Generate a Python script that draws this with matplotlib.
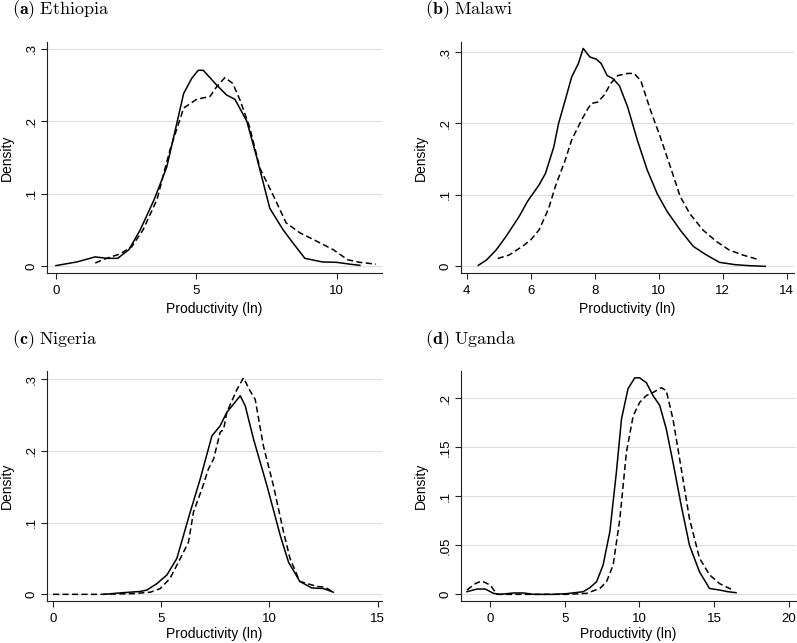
import matplotlib
matplotlib.use("Agg")
import matplotlib.pyplot as plt

plt.rcParams['font.family'] = ['Liberation Sans', 'DejaVu Sans']
plt.rcParams['mathtext.fontset'] = 'cm'

# ---------------- data ----------------
# (a) Ethiopia
eth_solid_x = [0.0, 0.74, 1.4, 1.8, 2.2, 2.6, 3.0, 3.5, 3.95, 4.55, 4.84, 5.07, 5.25, 5.72, 6.08, 6.38,
               6.8, 7.15, 7.62, 8.1, 8.45, 8.87, 9.5, 10.0, 10.47, 10.83]
eth_solid_y = [0.001, 0.006, 0.013, 0.011, 0.011, 0.023, 0.05, 0.092, 0.137, 0.238, 0.259, 0.27, 0.27,
               0.25, 0.236, 0.23, 0.20, 0.151, 0.08, 0.05, 0.032, 0.011, 0.006, 0.0055, 0.003, 0.0014]
eth_dash_x = [1.4, 1.8, 2.28, 2.7, 3.1, 3.6, 4.06, 4.55, 5.01, 5.49, 5.72, 6.02, 6.3, 6.56, 6.9, 7.27,
              7.74, 8.2, 8.7, 9.17, 9.88, 10.4, 10.83, 11.4]
eth_dash_y = [0.0046, 0.011, 0.017, 0.027, 0.05, 0.092, 0.16, 0.218, 0.23, 0.234, 0.247, 0.26, 0.252,
              0.229, 0.192, 0.135, 0.098, 0.06, 0.046, 0.037, 0.023, 0.009, 0.0055, 0.003]

# (b) Malawi
mal_solid_x = [4.36, 4.62, 4.92, 5.23, 5.64, 5.9, 6.26, 6.46, 6.72, 6.87, 7.08, 7.28, 7.49, 7.64, 7.85,
               8.05, 8.2, 8.39, 8.56, 8.77, 9.03, 9.33, 9.64, 9.95, 10.26, 10.67, 11.08, 11.49, 11.9,
               12.4, 12.82, 13.33]
mal_solid_y = [0.0014, 0.009, 0.023, 0.042, 0.07, 0.091, 0.114, 0.13, 0.167, 0.2, 0.233, 0.265, 0.284,
               0.305, 0.293, 0.29, 0.284, 0.267, 0.263, 0.253, 0.223, 0.177, 0.135, 0.102, 0.077, 0.051,
               0.028, 0.016, 0.0056, 0.0023, 0.001, 0.0]
mal_dash_x = [4.97, 5.33, 5.74, 6.0, 6.26, 6.56, 6.77, 7.08, 7.28, 7.59, 7.79, 7.9, 8.1, 8.3, 8.5, 8.72,
              9.03, 9.23, 9.44, 9.74, 10.05, 10.36, 10.67, 10.97, 11.38, 11.8, 12.2, 12.62, 13.08]
mal_dash_y = [0.011, 0.016, 0.028, 0.037, 0.051, 0.081, 0.112, 0.149, 0.177, 0.205, 0.221, 0.228, 0.23,
              0.24, 0.256, 0.267, 0.27, 0.27, 0.26, 0.219, 0.181, 0.14, 0.098, 0.074, 0.051, 0.035,
              0.023, 0.016, 0.01]

# (c) Nigeria
nga_solid_x = [2.34, 3.1, 4.03, 4.34, 4.8, 5.26, 5.72, 6.34, 6.8, 7.34, 7.72, 8.03, 8.65, 8.88, 9.26,
               9.88, 10.5, 10.88, 11.4, 11.95, 12.5, 12.95]
nga_solid_y = [0.0, 0.002, 0.004, 0.006, 0.015, 0.027, 0.05, 0.115, 0.161, 0.221, 0.235, 0.254, 0.277,
               0.263, 0.217, 0.152, 0.082, 0.045, 0.018, 0.009, 0.008, 0.003]
nga_dash_x = [0.0, 2.2, 3.7, 4.5, 4.95, 5.4, 5.88, 6.26, 6.49, 6.88, 7.18, 7.42, 7.72, 7.88, 8.03, 8.5,
              8.8, 9.1, 9.34, 9.72, 10.18, 10.65, 10.95, 11.4, 12.2, 12.57, 12.95]
nga_dash_y = [0.0, 0.0, 0.001, 0.003, 0.008, 0.022, 0.05, 0.073, 0.115, 0.147, 0.175, 0.189, 0.226, 0.23,
              0.254, 0.286, 0.302, 0.284, 0.272, 0.207, 0.152, 0.087, 0.05, 0.018, 0.011, 0.01, 0.003]

# (d) Uganda
uga_solid_x = [-1.56, -0.89, -0.33, 0.22, 0.67, 1.56, 2.23, 2.9, 4.23, 5.12, 6.24, 6.68, 7.13, 7.57,
               8.02, 8.46, 8.8, 9.24, 9.69, 10.02, 10.47, 10.91, 11.36, 11.8, 12.25, 12.8, 13.36, 14.03,
               14.7, 15.37, 15.92, 16.48]
uga_solid_y = [0.0027, 0.0054, 0.0054, 0.001, 0.0, 0.0014, 0.0014, 0.0, 0.0, 0.0007, 0.0027, 0.0068,
               0.0129, 0.03, 0.064, 0.125, 0.179, 0.21, 0.221, 0.221, 0.216, 0.203, 0.193, 0.169, 0.135,
               0.091, 0.05, 0.023, 0.006, 0.0044, 0.0027, 0.0017]
uga_dash_x = [-1.56, -1.0, -0.56, 0.0, 0.45, 2.45, 5.12, 6.46, 7.35, 7.8, 8.24, 8.69, 9.13, 9.58, 10.02,
              10.47, 10.91, 11.47, 11.8, 12.25, 12.7, 13.36, 14.03, 14.7, 15.37, 16.26]
uga_dash_y = [0.0044, 0.011, 0.0136, 0.0095, 0.0, 0.0, 0.0, 0.001, 0.006, 0.013, 0.03, 0.077, 0.145,
              0.182, 0.196, 0.203, 0.206, 0.211, 0.208, 0.179, 0.138, 0.077, 0.037, 0.02, 0.011, 0.0044]

titles = [r"$\mathbf{(a)}$ $\mathrm{Ethiopia}$", r"$\mathbf{(b)}$ $\mathrm{Malawi}$",
          r"$\mathbf{(c)}$ $\mathrm{Nigeria}$", r"$\mathbf{(d)}$ $\mathrm{Uganda}$"]

eth_xticks = [0, 5, 10]
mal_xticks = [4, 6, 8, 10, 12, 14]
nga_xticks = [0, 5, 10, 15]
uga_xticks = [0, 5, 10, 15, 20]
std_yticks = [0, 0.1, 0.2, 0.3]
std_ylabels = ["0", ".1", ".2", ".3"]
uga_yticks = [0, 0.05, 0.1, 0.15, 0.2]
uga_ylabels = ["0", ".05", ".1", ".15", ".2"]

xlabel = "Productivity (ln)"
ylabel = "Density"

# ---------------- layout ----------------
W, H = 797, 643
fig = plt.figure(figsize=(W / 100, H / 100), dpi=100)


def px_axes(l, t, r, b):
    return fig.add_axes([l / W, 1 - b / H, (r - l) / W, (b - t) / H])


panels = [
    dict(box=(47, 42, 382, 273), sx=eth_solid_x, sy=eth_solid_y, dx=eth_dash_x, dy=eth_dash_y,
         xt=eth_xticks, yt=std_yticks, yl=std_ylabels, xlim=(-0.32, 11.62), ylim=(-0.0092, 0.309),
         title_xy=(12, 10), lp=3),
    dict(box=(461, 42, 794, 273), sx=mal_solid_x, sy=mal_solid_y, dx=mal_dash_x, dy=mal_dash_y,
         xt=mal_xticks, yt=std_yticks, yl=std_ylabels, xlim=(3.82, 14.23), ylim=(-0.0093, 0.314),
         title_xy=(425, 10), lp=3),
    dict(box=(47, 371, 382, 601), sx=nga_solid_x, sy=nga_solid_y, dx=nga_dash_x, dy=nga_dash_y,
         xt=nga_xticks, yt=std_yticks, yl=std_ylabels, xlim=(-0.28, 15.2), ylim=(-0.0093, 0.3116),
         title_xy=(12, 340), lp=1),
    dict(box=(461, 371, 796, 601), sx=uga_solid_x, sy=uga_solid_y, dx=uga_dash_x, dy=uga_dash_y,
         xt=uga_xticks, yt=uga_yticks, yl=uga_ylabels, xlim=(-1.96, 20.5), ylim=(-0.0068, 0.228),
         title_xy=(425, 340), lp=1),
]

for p, title in zip(panels, titles):
    ax = px_axes(*p['box'])
    ax.plot(p['sx'], p['sy'], color='black', lw=1.1, solid_joinstyle='round')
    ax.plot(p['dx'], p['dy'], color='black', lw=1.1, dashes=(4, 2.2))
    ax.set_xlim(*p['xlim'])
    ax.set_ylim(*p['ylim'])
    ax.set_xticks(p['xt'])
    ax.set_xticklabels([str(v) for v in p['xt']], fontsize=9.5)
    ax.set_yticks(p['yt'])
    ax.set_yticklabels(p['yl'], rotation=90, va='center', fontsize=9.5)
    ax.grid(axis='y', color='#dddddd', lw=0.8)
    ax.set_axisbelow(True)
    for s in ['top', 'right']:
        ax.spines[s].set_visible(False)
    for s in ['left', 'bottom']:
        ax.spines[s].set_linewidth(0.8)
        ax.spines[s].set_color('#222222')
    ax.tick_params(direction='out', length=4, width=0.8, color='#222222', pad=3)
    ax.tick_params(axis='x', pad=5)
    ax.set_xlabel(xlabel, fontsize=10, labelpad=p['lp'])
    ax.set_ylabel(ylabel, fontsize=10, labelpad=8)
    tx, ty = p['title_xy']
    fig.text(tx / W, 1 - ty / H, title, fontsize=13, ha='left', va='center')

fig.savefig("out.png", dpi=100)
